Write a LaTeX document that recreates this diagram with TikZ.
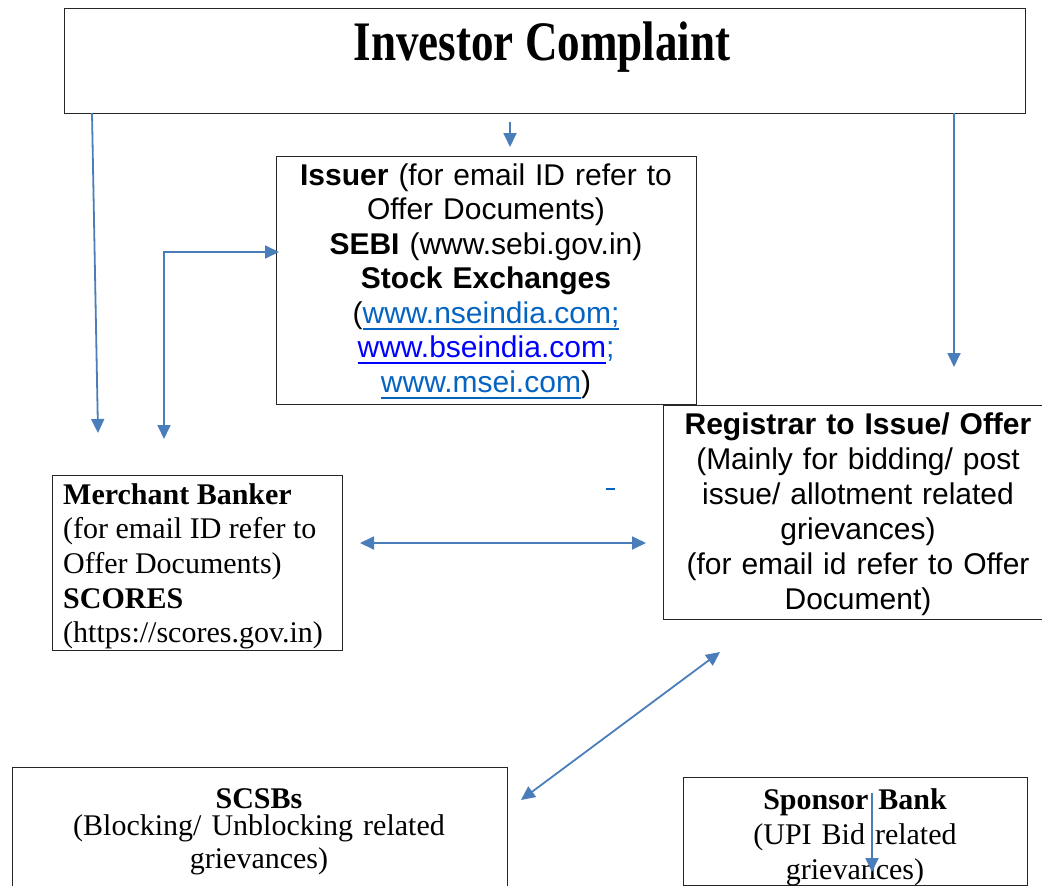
\documentclass[tikz,border=0pt]{standalone}
\usepackage{fontspec}
\setmainfont{Liberation Serif}
\newfontfamily\arialf{Liberation Sans}
\usetikzlibrary{arrows.meta}
\definecolor{arr}{HTML}{4A7EBB}
\definecolor{linkblue}{HTML}{0563C1}
\definecolor{bsblue}{HTML}{0000FF}
\newsavebox\ulbox
\newcommand\myul[2]{\leavevmode{\color{#1}\sbox\ulbox{#2}\rlap{\rule[-6.5pt]{\wd\ulbox}{2pt}}\usebox\ulbox}}
\tikzset{
 box/.style={draw=black!85,line width=1.3pt,inner sep=0pt,anchor=north west},
 arialtxt/.style={font=\arialf\fontsize{30}{34.5}\selectfont},
 txt/.style={inner sep=0pt,anchor=base,align=center},
 conn/.style={draw=arr,line width=1.8pt,-{Triangle[length=14pt,width=13pt]}},
 dconn/.style={draw=arr,line width=1.8pt,{Triangle[length=14pt,width=13pt]}-{Triangle[length=14pt,width=13pt]}}
}
\begin{document}
\begin{tikzpicture}[x=1pt,y=-1pt]
\useasboundingbox (0,0) rectangle (1042,886);
% boxes
\node[box,minimum width=961pt,minimum height=105pt] (ic) at (64,8) {};
\node[box,minimum width=420pt,minimum height=248pt] (iss) at (276,156) {};
\node[box,minimum width=400pt,minimum height=214pt] (rta) at (663,405) {};
\node[box,minimum width=290pt,minimum height=175pt] (mb) at (52,475) {};
\node[box,minimum width=495pt,minimum height=130pt] (scsb) at (12,767) {};
\node[box,minimum width=344pt,minimum height=108pt] (spb) at (683,777) {};
% texts
\node[inner sep=0pt,anchor=base] (ictxt) at (542,60)
  {\scalebox{1.01}[1.25]{\fontsize{44.6}{50}\selectfont\bfseries Investor Complaint}};
\node[txt,arialtxt,text width=400pt] (isstxt) at (486,185)
  {\textbf{Issuer} (for email ID refer to\\
   Offer Documents)\\
   \textbf{SEBI} (www.sebi.gov.in)\\
   \textbf{Stock Exchanges}\\
   (\myul{linkblue}{www.nseindia.com;}\\
   \myul{bsblue}{www.bseindia.com}{\color{linkblue};}\\
   \myul{linkblue}{www.msei.com})};
\node[txt,font=\arialf\fontsize{30}{35}\selectfont,text width=380pt] (rtatxt) at (858,434)
  {\textbf{Registrar to Issue/ Offer}\\
   (Mainly for bidding/ post\\
   issue/ allotment related\\
   grievances)\\
   (for email id refer to Offer\\
   Document)};
\node[inner sep=0pt,anchor=base west,align=flush left,font=\fontsize{30}{34.7}\selectfont,text width=400pt] (mbtxt) at (63,504)
  {\textbf{Merchant Banker}\\
   (for email ID refer to\\
   Offer Documents)\\
   \textbf{SCORES}\\
   (https://scores.gov.in)};
\node[txt,font=\fontsize{30}{33}\selectfont,text width=480pt] (scsbtxt) at (259,808)
  {\textbf{SCSBs}\\[-6pt]
   (Blocking/ Unblocking related\\
   grievances)};
\node[txt,font=\fontsize{30}{35}\selectfont,text width=330pt] (spbtxt) at (855,809)
  {\textbf{Sponsor Bank}\\
   (UPI Bid related\\
   grievances)};
% connector end points
\coordinate (a1s) at (92,113);
\coordinate (a1e) at (98,433);
\coordinate (a2s) at (510,122);
\coordinate (a2e) at (510,147);
\coordinate (a3s) at (954,113);
\coordinate (a3e) at (954,367);
\coordinate (a4s) at (164,439);
\coordinate (a4e) at (279,252);
\coordinate (a5s) at (360,543);
\coordinate (a5e) at (646,543);
\coordinate (a6s) at (720,652);
\coordinate (a6e) at (521,800);
\coordinate (a7s) at (872,793);
\coordinate (a7e) at (872,872);
\coordinate (d1) at (606,489);
\coordinate (d2) at (615,489);
% connectors
\draw[conn] (a1s) -- (a1e);
\draw[conn] (a2s) -- (a2e);
\draw[conn] (a3s) -- (a3e);
\draw[dconn] (a4s) |- (a4e);
\draw[dconn] (a5s) -- (a5e);
\draw[dconn] (a6s) -- (a6e);
\draw[conn] (a7s) -- (a7e);
\draw[draw=linkblue,line width=2pt] (d1) -- (d2);
\end{tikzpicture}
\end{document}
